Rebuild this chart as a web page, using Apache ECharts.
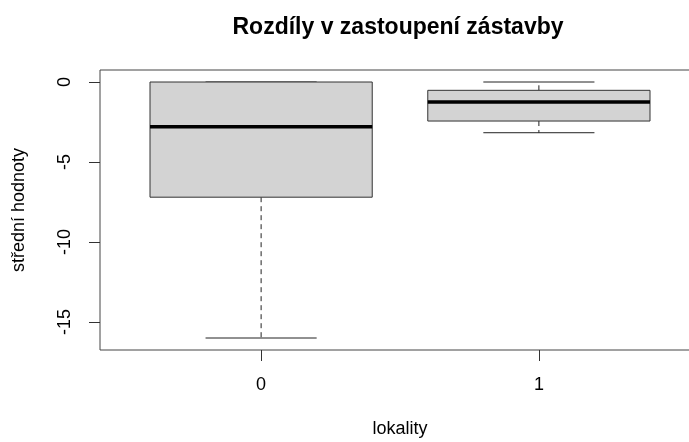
<!DOCTYPE html>
<html>
<head>
<meta charset="utf-8">
<script src="https://cdn.jsdelivr.net/npm/echarts@6/dist/echarts.min.js"></script>
<style>
  html, body { margin: 0; padding: 0; background: #fff; }
  #chart { width: 689px; height: 442px; }
</style>
</head>
<body>
<div id="chart"></div>
<script>
// values
var categories = ['0', '1'];
var whiskerLow = [-16.0, -3.17];
var q1 = [-7.2, -2.44];
var median = [-2.8, -1.25];
var q3 = [0.0, -0.52];
var whiskerHigh = [0.0, 0.0];
var yTicks = [0, -5, -10, -15];

var font = 'Liberation Sans, Arial, sans-serif';

var boxData = categories.map(function (c, i) {
  return [i, whiskerLow[i], q1[i], median[i], q3[i], whiskerHigh[i]];
});

function renderBox(params, api) {
  var x = api.value(0);
  var lo = api.value(1), b1 = api.value(2), med = api.value(3), b3 = api.value(4), hi = api.value(5);
  var half = 0.4, cap = 0.2;
  var tl = api.coord([x - half, b3]);
  var br = api.coord([x + half, b1]);
  var c = function (xx, yy) { return api.coord([xx, yy]); };
  var line = function (p1, p2, style) {
    return { type: 'line', shape: { x1: p1[0], y1: p1[1], x2: p2[0], y2: p2[1] }, style: style };
  };
  var dashed = { stroke: '#222', lineWidth: 1, lineDash: [5, 4] };
  var solid = { stroke: '#222', lineWidth: 1 };
  return {
    type: 'group',
    children: [
      line(c(x, b3), c(x, hi), dashed),
      line(c(x, b1), c(x, lo), dashed),
      line(c(x - cap, hi), c(x + cap, hi), solid),
      line(c(x - cap, lo), c(x + cap, lo), solid),
      {
        type: 'rect',
        shape: { x: tl[0], y: tl[1], width: br[0] - tl[0], height: br[1] - tl[1] },
        style: { fill: '#d3d3d3', stroke: '#333', lineWidth: 1 }
      },
      line(c(x - half, med), c(x + half, med), { stroke: '#000', lineWidth: 3.5 })
    ]
  };
}

var chart = echarts.init(document.getElementById('chart'));
chart.setOption({
  animation: false,
  backgroundColor: '#fff',
  title: {
    text: 'Rozdíly v zastoupení zástavby',
    left: 393,
    textAlign: 'center',
    top: 11,
    textStyle: { fontFamily: font, fontSize: 23, fontWeight: 'bold', color: '#000' }
  },
  grid: {
    left: 100, top: 70, width: 600, height: 280,
    outerBoundsMode: 'none',
    containLabel: false,
    show: true, borderColor: '#444', borderWidth: 1, backgroundColor: 'transparent'
  },
  xAxis: {
    type: 'value',
    min: -0.58, max: 1.58,
    name: 'lokality',
    nameLocation: 'middle',
    nameGap: 70,
    nameTextStyle: { fontFamily: font, fontSize: 18, color: '#000' },
    splitLine: { show: false },
    axisLine: { show: false, onZero: false },
    axisTick: { show: true, length: 11, customValues: [0, 1], lineStyle: { color: '#333' } },
    axisLabel: {
      customValues: [0, 1], margin: 26,
      fontFamily: font, fontSize: 18, color: '#000',
      formatter: function (v) { return categories[v]; }
    }
  },
  yAxis: {
    type: 'value',
    min: -16.75, max: 0.75,
    name: 'střední hodnoty',
    nameLocation: 'middle',
    nameGap: 72,
    nameRotate: 90,
    nameTextStyle: { fontFamily: font, fontSize: 18, color: '#000' },
    splitLine: { show: false },
    axisLine: { show: false, onZero: false },
    axisTick: { show: true, length: 11, customValues: yTicks, lineStyle: { color: '#333' } },
    axisLabel: {
      customValues: yTicks, rotate: 90, margin: 26,
      fontFamily: font, fontSize: 18, color: '#000'
    }
  },
  series: [{
    type: 'custom',
    renderItem: renderBox,
    encode: { x: 0, y: [1, 2, 3, 4, 5] },
    data: boxData
  }]
});
</script>
</body>
</html>
